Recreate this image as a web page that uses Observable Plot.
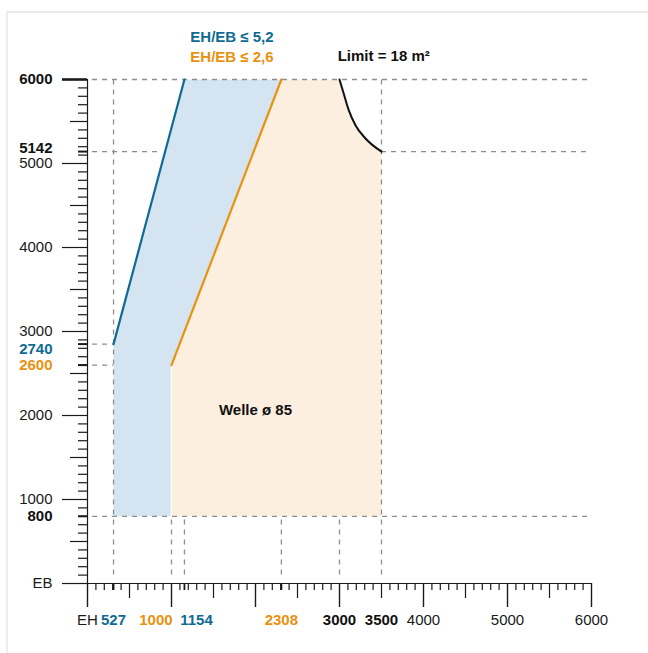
<!DOCTYPE html>
<html><head><meta charset="utf-8">
<script src="https://cdn.jsdelivr.net/npm/d3@7"></script>
<script src="https://cdn.jsdelivr.net/npm/@observablehq/plot@0.6"></script>
<style>
html,body{margin:0;padding:0;background:#fff;overflow:hidden;width:648px;height:653px}
#card{position:absolute;left:6px;top:11px;width:720px;height:720px;border:2px solid #ececec;box-sizing:border-box}
#chart{position:absolute;left:0;top:0}
</style></head>
<body><div id="card"></div><div id="chart"></div>
<script>
// ---- data (EH horizontal, EB vertical, as drawn) ----
const blueLine = [{eh: 310, eb: 2850}, {eh: 1154, eb: 6000}];
const orangeLine = [{eh: 1000, eb: 2600}, {eh: 2308, eb: 6000}];
const limitCurve = [
  {eh: 3000, eb: 6000}, {eh: 3050, eb: 5833}, {eh: 3110, eb: 5635},
  {eh: 3190, eb: 5456}, {eh: 3310, eb: 5298}, {eh: 3500, eb: 5142}
];
const blueRegion = [
  {eh: 310, eb: 800}, {eh: 310, eb: 2850}, {eh: 1154, eb: 6000},
  {eh: 2308, eb: 6000}, {eh: 1000, eb: 2600}, {eh: 1000, eb: 800}
];
const orangeRegion = [
  {eh: 1000, eb: 800}, {eh: 1000, eb: 2600}, {eh: 2308, eb: 6000},
  ...limitCurve, {eh: 3500, eb: 800}
];
// dashed reference lines
const hDashes = [
  {eb: 6000, from: 60, to: 5960}, {eb: 5142, from: 60, to: 860},
  {eb: 5142, from: 3500, to: 5960}, {eb: 2850, from: 60, to: 310},
  {eb: 2600, from: 60, to: 310}, {eb: 800, from: 60, to: 5960}
];
const vDashes = [
  {eh: 310, from: 100, to: 6000}, {eh: 1000, from: 100, to: 800},
  {eh: 1154, from: 100, to: 800}, {eh: 2308, from: 100, to: 800},
  {eh: 3000, from: 100, to: 800}, {eh: 3500, from: 100, to: 6000}
];
// tick labels
const yLabelsRegular = [{v: 5000, t: "5000"}, {v: 4000, t: "4000"}, {v: 3000, t: "3000"},
  {v: 2000, t: "2000"}, {v: 1000, t: "1000"}, {v: 0, t: "EB"}];
const yLabelsBold = [{v: 6000, t: "6000", c: "#111"}, {v: 5180, t: "5142", c: "#111"},
  {v: 2790, t: "2740", c: "#0f6a94"}, {v: 2600, t: "2600", c: "#e8920f"}, {v: 800, t: "800", c: "#111"}];
const xLabelsRegular = [{v: 0, t: "EH"}, {v: 4000, t: "4000"}, {v: 5000, t: "5000"}, {v: 6000, t: "6000"}];
const xLabelsBold = [{v: 310, t: "527", c: "#0f6a94"}, {v: 815, t: "1000", c: "#e8920f"},
  {v: 1298, t: "1154", c: "#0f6a94"}, {v: 2308, t: "2308", c: "#e8920f"},
  {v: 3000, t: "3000", c: "#111"}, {v: 3500, t: "3500", c: "#111"}];
const xSpecialTicks = [310, 1154, 2308];
const ySpecialTicks = [5142, 2850, 2600, 800];
const annotations = [
  {eh: 1224, eb: 6507, t: "EH/EB ≤ 5,2", c: "#0f6a94"},
  {eh: 1224, eb: 6269, t: "EH/EB ≤ 2,6", c: "#e8920f"},
  {eh: 2978, eb: 6277, t: "Limit = 18 m²", c: "#111"}
];
const centerLabel = [{eh: 2000, eb: 2063, t: "Welle ø 85"}];

// ---- ticks ----
const all = d3.range(0, 6001, 100);
const minor = all.filter(v => v % 500 !== 0);
const medium = all.filter(v => v % 500 === 0 && v % 1000 !== 0);
const major = all.filter(v => v % 1000 === 0);

const BLUE = "#0f6a94", ORANGE = "#e8920f", BLUE_FILL = "#d4e5f1", ORANGE_FILL = "#fcefdf";
const DASH = "#8e8e8e", INK = "#1a1a1a";
const FONT = "'Liberation Sans', Arial, Helvetica, sans-serif";
const noText = () => "";

const chart = Plot.plot({
  width: 648, height: 653,
  marginLeft: 87, marginRight: 57, marginTop: 79, marginBottom: 70,
  x: {domain: [0, 6000]},
  y: {domain: [0, 6000]},
  color: {type: "identity"},
  style: {fontFamily: FONT, fontSize: "15px", background: "transparent", overflow: "visible"},
  marks: [
    Plot.line(blueRegion, {x: "eh", y: "eb", fill: BLUE_FILL, stroke: "none"}),
    Plot.line(orangeRegion, {x: "eh", y: "eb", fill: ORANGE_FILL, stroke: "none"}),
    Plot.ruleX([1000], {y1: 800, y2: 2600, stroke: "white", strokeWidth: 1.3}),
    Plot.ruleY(hDashes, {y: "eb", x1: "from", x2: "to", stroke: DASH, strokeWidth: 1.3, strokeDasharray: "5,5"}),
    Plot.ruleX(vDashes, {x: "eh", y1: "from", y2: "to", stroke: DASH, strokeWidth: 1.3, strokeDasharray: "5,5"}),
    // axes lines
    Plot.ruleX([0], {y1: 0, y2: 6000, stroke: INK, strokeWidth: 1.2}),
    Plot.ruleY([0], {x1: 0, x2: 6000, stroke: INK, strokeWidth: 1.2}),
    // y ticks
    Plot.axisY({ticks: minor, tickSize: 9, tickFormat: noText, label: null, stroke: INK, strokeWidth: 1.2}),
    Plot.axisY({ticks: medium, tickSize: 17, tickFormat: noText, label: null, stroke: INK, strokeWidth: 1.2}),
    Plot.axisY({ticks: major.filter(v => v !== 6000), tickSize: 25, tickFormat: noText, label: null, stroke: INK, strokeWidth: 1.2}),
    Plot.axisY({ticks: [6000], tickSize: 25, tickFormat: noText, label: null, stroke: INK, strokeWidth: 2.6}),
    Plot.axisY({ticks: ySpecialTicks, tickSize: 9, tickFormat: noText, label: null, stroke: INK, strokeWidth: 2}),
    // x ticks
    Plot.axisX({ticks: minor, tickSize: 7, tickFormat: noText, label: null, stroke: INK, strokeWidth: 1.2}),
    Plot.axisX({ticks: medium, tickSize: 15, tickFormat: noText, label: null, stroke: INK, strokeWidth: 1.2}),
    Plot.axisX({ticks: major, tickSize: 24, tickFormat: noText, label: null, stroke: INK, strokeWidth: 1.4}),
    Plot.axisX({ticks: xSpecialTicks, tickSize: 7, tickFormat: noText, label: null, stroke: INK, strokeWidth: 1.8}),
    // boundary lines
    Plot.line(blueLine, {x: "eh", y: "eb", stroke: BLUE, strokeWidth: 2.2}),
    Plot.line(orangeLine, {x: "eh", y: "eb", stroke: ORANGE, strokeWidth: 2.2}),
    Plot.line(limitCurve, {x: "eh", y: "eb", stroke: "#111", strokeWidth: 2, curve: "monotone-x"}),
    // labels
    Plot.text(yLabelsRegular, {y: "v", text: "t", frameAnchor: "left", textAnchor: "end", dx: -35, fill: INK, fontSize: 15}),
    Plot.text(yLabelsBold, {y: "v", text: "t", frameAnchor: "left", textAnchor: "end", dx: -35, fill: "c", fontSize: 15, fontWeight: "bold"}),
    Plot.text(xLabelsRegular, {x: "v", text: "t", frameAnchor: "bottom", dy: 41, fill: INK, fontSize: 15}),
    Plot.text(xLabelsBold, {x: "v", text: "t", frameAnchor: "bottom", dy: 41, fill: "c", fontSize: 15, fontWeight: "bold"}),
    Plot.text(annotations, {x: "eh", y: "eb", text: "t", textAnchor: "start", fill: "c", fontSize: 15, fontWeight: "bold"}),
    Plot.text(centerLabel, {x: "eh", y: "eb", text: "t", fill: "#111", fontSize: 15, fontWeight: "bold"})
  ]
});
document.getElementById("chart").appendChild(chart);
</script>
</body></html>
